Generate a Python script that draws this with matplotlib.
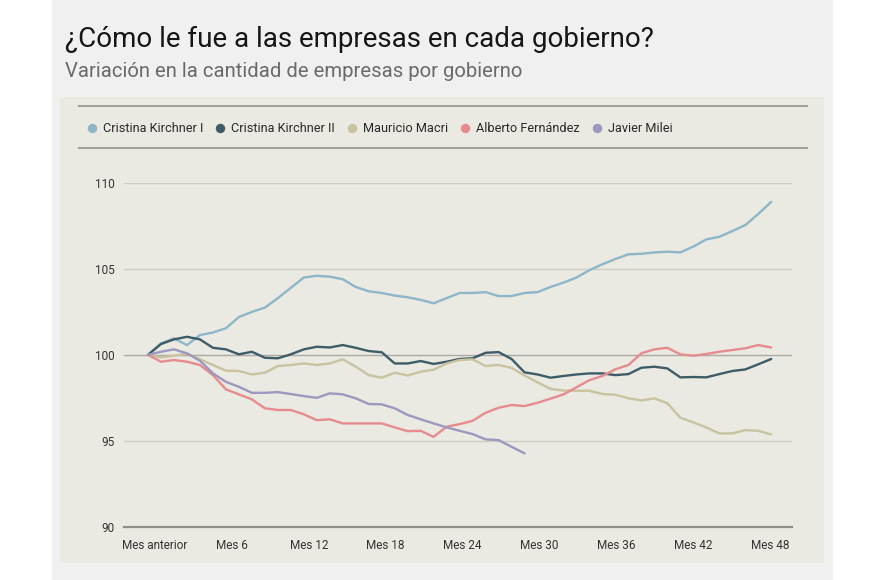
import matplotlib
matplotlib.use("Agg")
import matplotlib.pyplot as plt
from matplotlib.patches import Rectangle
from matplotlib.lines import Line2D
import numpy as np

plt.rcParams['font.family'] = ['Roboto', 'DejaVu Sans']

# ---------------- data ----------------
title = "¿Cómo le fue a las empresas en cada gobierno?"
subtitle = "Variación en la cantidad de empresas por gobierno"

series_names = ["Cristina Kirchner I", "Cristina Kirchner II", "Mauricio Macri",
                "Alberto Fernández", "Javier Milei"]
series_colors = ["#8db6c8", "#3e5c68", "#c9c39f", "#e68c8f", "#9d98bd"]

ck1 = [100, 100.67, 100.96, 100.57, 101.15, 101.3, 101.55, 102.2, 102.5, 102.75,
       103.3, 103.9, 104.5, 104.6, 104.55, 104.4, 103.95, 103.7, 103.6, 103.45,
       103.35, 103.2, 103.0, 103.3, 103.6, 103.6, 103.65, 103.42, 103.42, 103.6,
       103.65, 103.95, 104.2, 104.5, 104.93, 105.27, 105.58, 105.85, 105.88, 105.96,
       106.0, 105.96, 106.3, 106.72, 106.87, 107.2, 107.55, 108.2, 108.9]
ck2 = [100, 100.63, 100.9, 101.05, 100.9, 100.41, 100.32, 100.03, 100.18, 99.83,
       99.8, 100.03, 100.32, 100.47, 100.43, 100.57, 100.41, 100.22, 100.15, 99.5,
       99.5, 99.64, 99.47, 99.6, 99.76, 99.8, 100.12, 100.16, 99.76, 98.98,
       98.86, 98.67, 98.77, 98.86, 98.92, 98.92, 98.82, 98.88, 99.25, 99.31,
       99.21, 98.69, 98.71, 98.69, 98.88, 99.06, 99.15, 99.45, 99.76]
macri = [100, 99.85, 99.95, 100.07, 99.74, 99.41, 99.08, 99.06, 98.86, 98.96,
         99.35, 99.41, 99.5, 99.41, 99.5, 99.74, 99.31, 98.82, 98.67, 98.96,
         98.8, 99.02, 99.14, 99.5, 99.7, 99.74, 99.35, 99.41, 99.24, 98.8,
         98.4, 98.02, 97.92, 97.91, 97.91, 97.72, 97.68, 97.47, 97.35, 97.47,
         97.18, 96.34, 96.07, 95.78, 95.43, 95.43, 95.62, 95.58, 95.37]
fernandez = [100, 99.6, 99.7, 99.6, 99.41, 98.82, 97.99, 97.7, 97.41, 96.89,
             96.79, 96.79, 96.54, 96.2, 96.25, 96.01, 96.01, 96.01, 96.01, 95.78,
             95.56, 95.58, 95.23, 95.82, 95.97, 96.16, 96.63, 96.92, 97.08, 97.02,
             97.21, 97.45, 97.7, 98.11, 98.53, 98.77, 99.16, 99.41, 100.09, 100.32,
             100.41, 100.03, 99.95, 100.05, 100.18, 100.28, 100.38, 100.57, 100.43]
milei = [100, 100.18, 100.32, 100.09, 99.66, 98.92, 98.43, 98.14, 97.79, 97.79,
         97.83, 97.72, 97.6, 97.5, 97.76, 97.7, 97.47, 97.14, 97.12, 96.89,
         96.5, 96.25, 96.01, 95.78, 95.58, 95.39, 95.08, 95.04, 94.65, 94.27]

series_values = [ck1, ck2, macri, fernandez, milei]

tick_labels = ["Mes anterior", "Mes 6", "Mes 12", "Mes 18", "Mes 24",
               "Mes 30", "Mes 36", "Mes 42", "Mes 48"]
y_ticks = [90, 95, 100, 105, 110]

# ---------------- layout helpers ----------------
W, H = 870, 580
def fx(px):
    return px / W
def fy(py):
    return 1 - py / H

fig = plt.figure(figsize=(8.7, 5.8), dpi=100, facecolor="white")

# background panels
fig.patches.append(Rectangle((fx(52), 0), fx(833) - fx(52), 1, transform=fig.transFigure,
                             facecolor="#f0f0f0", edgecolor="none", zorder=-10))
fig.patches.append(Rectangle((fx(60), fy(563)), fx(824) - fx(60), fy(97) - fy(563),
                             transform=fig.transFigure, facecolor="#eae9e2",
                             edgecolor="none", zorder=-9))

# title / subtitle
fig.text(fx(65), fy(47), title, fontsize=20, color="#161616", va="baseline", ha="left")
fig.text(fx(65), fy(77), subtitle, fontsize=14.6, color="#6a6a6a", va="baseline", ha="left")

# legend rules
for yy in (106, 148):
    fig.add_artist(Line2D([fx(79), fx(807)], [fy(yy), fy(yy)], transform=fig.transFigure,
                          color="#9e9e97", lw=1.4))

# ---------------- axes ----------------
ax = fig.add_axes([fx(124), fy(526.7), fx(792) - fx(124), fy(183) - fy(526.7)])
ax.patch.set_alpha(0)
ax.set_ylim(90, 110)
ax.set_xlim(-1.85, 49.6)
for s in ax.spines.values():
    s.set_visible(False)

for v in (95, 105, 110):
    ax.axhline(v, color="#cdccc5", lw=1.0, zorder=1)
ax.axhline(100, color="#aaa9a2", lw=1.0, zorder=1)
ax.axhline(90, color="#8f8f89", lw=1.6, zorder=1, clip_on=False)

ax.set_yticks(y_ticks)
ax.set_yticklabels([str(t) for t in y_ticks])
ax.set_xticks(np.linspace(0.55, 47.9, len(tick_labels)))
ax.set_xticklabels(tick_labels)
ax.tick_params(axis="y", length=0, pad=7, labelsize=8.5, labelcolor="#333333")
ax.tick_params(axis="x", length=0, pad=9, labelsize=8.5, labelcolor="#333333")

for name, vals, col in zip(series_names, series_values, series_colors):
    ax.plot(np.arange(len(vals)), vals, color=col, lw=1.7, solid_joinstyle="round",
            solid_capstyle="round", clip_on=False, zorder=3, label=name)

# ---------------- legend (manual) ----------------
renderer = fig.canvas.get_renderer()
x = 92
for name, col in zip(series_names, series_colors):
    fig.add_artist(Line2D([fx(x)], [fy(128)], transform=fig.transFigure, marker="o",
                          markersize=6.8, markerfacecolor=col, markeredgecolor="none",
                          linestyle="none"))
    t = fig.text(fx(x + 11), fy(128), name, fontsize=9.2, color="#2a2a2a",
                 va="center", ha="left")
    w = t.get_window_extent(renderer).width
    x = x + 11 + w + 17

fig.savefig("out.png", dpi=100, facecolor="white")
